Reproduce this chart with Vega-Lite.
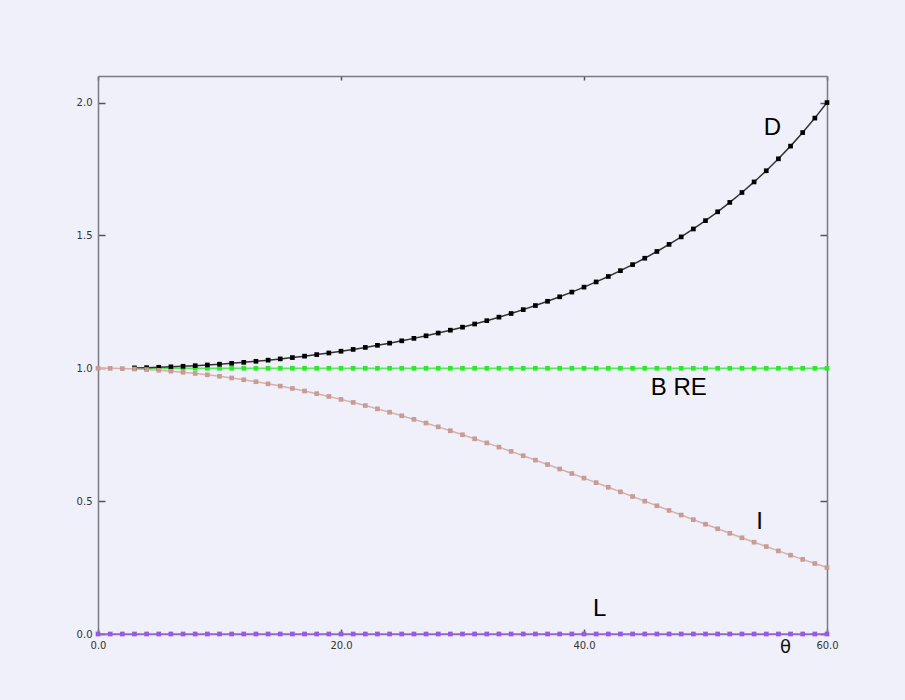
{
  "$schema": "https://vega.github.io/schema/vega-lite/v6.json",
  "width": 729,
  "height": 558,
  "autosize": "none",
  "padding": {"left": 98, "top": 76, "right": 78, "bottom": 66},
  "background": "#f0f0fa",
  "config": {
    "view": {"stroke": null},
    "axis": {"grid": false, "labelFlush": false, "domainColor": "#7a7a82", "domainWidth": 1.5, "tickColor": "#555", "tickWidth": 1.5, "labelFont": "DejaVu Sans", "labelFontSize": 10, "labelColor": "#333"}
  },
  "datasets": {
    "curves": [
      {"s": "L", "theta": 0, "v": 0}, {"s": "L", "theta": 1, "v": 0}, {"s": "L", "theta": 2, "v": 0}, {"s": "L", "theta": 3, "v": 0}, {"s": "L", "theta": 4, "v": 0}, {"s": "L", "theta": 5, "v": 0}, {"s": "L", "theta": 6, "v": 0}, {"s": "L", "theta": 7, "v": 0}, {"s": "L", "theta": 8, "v": 0}, {"s": "L", "theta": 9, "v": 0}, {"s": "L", "theta": 10, "v": 0}, {"s": "L", "theta": 11, "v": 0}, {"s": "L", "theta": 12, "v": 0}, {"s": "L", "theta": 13, "v": 0}, {"s": "L", "theta": 14, "v": 0}, {"s": "L", "theta": 15, "v": 0}, {"s": "L", "theta": 16, "v": 0}, {"s": "L", "theta": 17, "v": 0}, {"s": "L", "theta": 18, "v": 0}, {"s": "L", "theta": 19, "v": 0}, {"s": "L", "theta": 20, "v": 0}, {"s": "L", "theta": 21, "v": 0}, {"s": "L", "theta": 22, "v": 0}, {"s": "L", "theta": 23, "v": 0}, {"s": "L", "theta": 24, "v": 0}, {"s": "L", "theta": 25, "v": 0}, {"s": "L", "theta": 26, "v": 0}, {"s": "L", "theta": 27, "v": 0}, {"s": "L", "theta": 28, "v": 0}, {"s": "L", "theta": 29, "v": 0}, {"s": "L", "theta": 30, "v": 0}, {"s": "L", "theta": 31, "v": 0}, {"s": "L", "theta": 32, "v": 0}, {"s": "L", "theta": 33, "v": 0}, {"s": "L", "theta": 34, "v": 0}, {"s": "L", "theta": 35, "v": 0}, {"s": "L", "theta": 36, "v": 0}, {"s": "L", "theta": 37, "v": 0}, {"s": "L", "theta": 38, "v": 0}, {"s": "L", "theta": 39, "v": 0}, {"s": "L", "theta": 40, "v": 0}, {"s": "L", "theta": 41, "v": 0}, {"s": "L", "theta": 42, "v": 0}, {"s": "L", "theta": 43, "v": 0}, {"s": "L", "theta": 44, "v": 0}, {"s": "L", "theta": 45, "v": 0}, {"s": "L", "theta": 46, "v": 0}, {"s": "L", "theta": 47, "v": 0}, {"s": "L", "theta": 48, "v": 0}, {"s": "L", "theta": 49, "v": 0}, {"s": "L", "theta": 50, "v": 0}, {"s": "L", "theta": 51, "v": 0}, {"s": "L", "theta": 52, "v": 0}, {"s": "L", "theta": 53, "v": 0}, {"s": "L", "theta": 54, "v": 0}, {"s": "L", "theta": 55, "v": 0}, {"s": "L", "theta": 56, "v": 0}, {"s": "L", "theta": 57, "v": 0}, {"s": "L", "theta": 58, "v": 0}, {"s": "L", "theta": 59, "v": 0}, {"s": "L", "theta": 60, "v": 0},
      {"s": "B RE", "theta": 3, "v": 1}, {"s": "B RE", "theta": 4, "v": 1}, {"s": "B RE", "theta": 5, "v": 1}, {"s": "B RE", "theta": 6, "v": 1}, {"s": "B RE", "theta": 7, "v": 1}, {"s": "B RE", "theta": 8, "v": 1}, {"s": "B RE", "theta": 9, "v": 1}, {"s": "B RE", "theta": 10, "v": 1}, {"s": "B RE", "theta": 11, "v": 1}, {"s": "B RE", "theta": 12, "v": 1}, {"s": "B RE", "theta": 13, "v": 1}, {"s": "B RE", "theta": 14, "v": 1}, {"s": "B RE", "theta": 15, "v": 1}, {"s": "B RE", "theta": 16, "v": 1}, {"s": "B RE", "theta": 17, "v": 1}, {"s": "B RE", "theta": 18, "v": 1}, {"s": "B RE", "theta": 19, "v": 1}, {"s": "B RE", "theta": 20, "v": 1}, {"s": "B RE", "theta": 21, "v": 1}, {"s": "B RE", "theta": 22, "v": 1}, {"s": "B RE", "theta": 23, "v": 1}, {"s": "B RE", "theta": 24, "v": 1}, {"s": "B RE", "theta": 25, "v": 1}, {"s": "B RE", "theta": 26, "v": 1}, {"s": "B RE", "theta": 27, "v": 1}, {"s": "B RE", "theta": 28, "v": 1}, {"s": "B RE", "theta": 29, "v": 1}, {"s": "B RE", "theta": 30, "v": 1}, {"s": "B RE", "theta": 31, "v": 1}, {"s": "B RE", "theta": 32, "v": 1}, {"s": "B RE", "theta": 33, "v": 1}, {"s": "B RE", "theta": 34, "v": 1}, {"s": "B RE", "theta": 35, "v": 1}, {"s": "B RE", "theta": 36, "v": 1}, {"s": "B RE", "theta": 37, "v": 1}, {"s": "B RE", "theta": 38, "v": 1}, {"s": "B RE", "theta": 39, "v": 1}, {"s": "B RE", "theta": 40, "v": 1}, {"s": "B RE", "theta": 41, "v": 1}, {"s": "B RE", "theta": 42, "v": 1}, {"s": "B RE", "theta": 43, "v": 1}, {"s": "B RE", "theta": 44, "v": 1}, {"s": "B RE", "theta": 45, "v": 1}, {"s": "B RE", "theta": 46, "v": 1}, {"s": "B RE", "theta": 47, "v": 1}, {"s": "B RE", "theta": 48, "v": 1}, {"s": "B RE", "theta": 49, "v": 1}, {"s": "B RE", "theta": 50, "v": 1}, {"s": "B RE", "theta": 51, "v": 1}, {"s": "B RE", "theta": 52, "v": 1}, {"s": "B RE", "theta": 53, "v": 1}, {"s": "B RE", "theta": 54, "v": 1}, {"s": "B RE", "theta": 55, "v": 1}, {"s": "B RE", "theta": 56, "v": 1}, {"s": "B RE", "theta": 57, "v": 1}, {"s": "B RE", "theta": 58, "v": 1}, {"s": "B RE", "theta": 59, "v": 1}, {"s": "B RE", "theta": 60, "v": 1},
      {"s": "D", "theta": 3, "v": 1.0014}, {"s": "D", "theta": 4, "v": 1.0024}, {"s": "D", "theta": 5, "v": 1.0038}, {"s": "D", "theta": 6, "v": 1.0055}, {"s": "D", "theta": 7, "v": 1.0075}, {"s": "D", "theta": 8, "v": 1.0098}, {"s": "D", "theta": 9, "v": 1.0125}, {"s": "D", "theta": 10, "v": 1.0154}, {"s": "D", "theta": 11, "v": 1.0187}, {"s": "D", "theta": 12, "v": 1.0223}, {"s": "D", "theta": 13, "v": 1.0263}, {"s": "D", "theta": 14, "v": 1.0306}, {"s": "D", "theta": 15, "v": 1.0353}, {"s": "D", "theta": 16, "v": 1.0403}, {"s": "D", "theta": 17, "v": 1.0457}, {"s": "D", "theta": 18, "v": 1.0515}, {"s": "D", "theta": 19, "v": 1.0576}, {"s": "D", "theta": 20, "v": 1.0642}, {"s": "D", "theta": 21, "v": 1.0711}, {"s": "D", "theta": 22, "v": 1.0785}, {"s": "D", "theta": 23, "v": 1.0864}, {"s": "D", "theta": 24, "v": 1.0946}, {"s": "D", "theta": 25, "v": 1.1034}, {"s": "D", "theta": 26, "v": 1.1126}, {"s": "D", "theta": 27, "v": 1.1223}, {"s": "D", "theta": 28, "v": 1.1326}, {"s": "D", "theta": 29, "v": 1.1434}, {"s": "D", "theta": 30, "v": 1.1547}, {"s": "D", "theta": 31, "v": 1.1666}, {"s": "D", "theta": 32, "v": 1.1792}, {"s": "D", "theta": 33, "v": 1.1924}, {"s": "D", "theta": 34, "v": 1.2062}, {"s": "D", "theta": 35, "v": 1.2208}, {"s": "D", "theta": 36, "v": 1.2361}, {"s": "D", "theta": 37, "v": 1.2521}, {"s": "D", "theta": 38, "v": 1.2690}, {"s": "D", "theta": 39, "v": 1.2868}, {"s": "D", "theta": 40, "v": 1.3054}, {"s": "D", "theta": 41, "v": 1.3250}, {"s": "D", "theta": 42, "v": 1.3456}, {"s": "D", "theta": 43, "v": 1.3673}, {"s": "D", "theta": 44, "v": 1.3902}, {"s": "D", "theta": 45, "v": 1.4142}, {"s": "D", "theta": 46, "v": 1.4396}, {"s": "D", "theta": 47, "v": 1.4663}, {"s": "D", "theta": 48, "v": 1.4945}, {"s": "D", "theta": 49, "v": 1.5243}, {"s": "D", "theta": 50, "v": 1.5557}, {"s": "D", "theta": 51, "v": 1.5890}, {"s": "D", "theta": 52, "v": 1.6243}, {"s": "D", "theta": 53, "v": 1.6616}, {"s": "D", "theta": 54, "v": 1.7013}, {"s": "D", "theta": 55, "v": 1.7434}, {"s": "D", "theta": 56, "v": 1.7883}, {"s": "D", "theta": 57, "v": 1.8361}, {"s": "D", "theta": 58, "v": 1.8871}, {"s": "D", "theta": 59, "v": 1.9416}, {"s": "D", "theta": 60, "v": 2.0},
      {"s": "I", "theta": 0, "v": 1.0}, {"s": "I", "theta": 1, "v": 0.9997}, {"s": "I", "theta": 2, "v": 0.9988}, {"s": "I", "theta": 3, "v": 0.9973}, {"s": "I", "theta": 4, "v": 0.9951}, {"s": "I", "theta": 5, "v": 0.9924}, {"s": "I", "theta": 6, "v": 0.9891}, {"s": "I", "theta": 7, "v": 0.9851}, {"s": "I", "theta": 8, "v": 0.9806}, {"s": "I", "theta": 9, "v": 0.9755}, {"s": "I", "theta": 10, "v": 0.9698}, {"s": "I", "theta": 11, "v": 0.9636}, {"s": "I", "theta": 12, "v": 0.9568}, {"s": "I", "theta": 13, "v": 0.9494}, {"s": "I", "theta": 14, "v": 0.9415}, {"s": "I", "theta": 15, "v": 0.9330}, {"s": "I", "theta": 16, "v": 0.9240}, {"s": "I", "theta": 17, "v": 0.9145}, {"s": "I", "theta": 18, "v": 0.9045}, {"s": "I", "theta": 19, "v": 0.8940}, {"s": "I", "theta": 20, "v": 0.8830}, {"s": "I", "theta": 21, "v": 0.8716}, {"s": "I", "theta": 22, "v": 0.8597}, {"s": "I", "theta": 23, "v": 0.8473}, {"s": "I", "theta": 24, "v": 0.8346}, {"s": "I", "theta": 25, "v": 0.8214}, {"s": "I", "theta": 26, "v": 0.8078}, {"s": "I", "theta": 27, "v": 0.7939}, {"s": "I", "theta": 28, "v": 0.7796}, {"s": "I", "theta": 29, "v": 0.7650}, {"s": "I", "theta": 30, "v": 0.75}, {"s": "I", "theta": 31, "v": 0.7347}, {"s": "I", "theta": 32, "v": 0.7192}, {"s": "I", "theta": 33, "v": 0.7034}, {"s": "I", "theta": 34, "v": 0.6873}, {"s": "I", "theta": 35, "v": 0.6710}, {"s": "I", "theta": 36, "v": 0.6545}, {"s": "I", "theta": 37, "v": 0.6378}, {"s": "I", "theta": 38, "v": 0.6210}, {"s": "I", "theta": 39, "v": 0.6040}, {"s": "I", "theta": 40, "v": 0.5868}, {"s": "I", "theta": 41, "v": 0.5696}, {"s": "I", "theta": 42, "v": 0.5523}, {"s": "I", "theta": 43, "v": 0.5349}, {"s": "I", "theta": 44, "v": 0.5175}, {"s": "I", "theta": 45, "v": 0.5}, {"s": "I", "theta": 46, "v": 0.4826}, {"s": "I", "theta": 47, "v": 0.4651}, {"s": "I", "theta": 48, "v": 0.4477}, {"s": "I", "theta": 49, "v": 0.4304}, {"s": "I", "theta": 50, "v": 0.4132}, {"s": "I", "theta": 51, "v": 0.3960}, {"s": "I", "theta": 52, "v": 0.3790}, {"s": "I", "theta": 53, "v": 0.3622}, {"s": "I", "theta": 54, "v": 0.3455}, {"s": "I", "theta": 55, "v": 0.3290}, {"s": "I", "theta": 56, "v": 0.3127}, {"s": "I", "theta": 57, "v": 0.2966}, {"s": "I", "theta": 58, "v": 0.2808}, {"s": "I", "theta": 59, "v": 0.2653}, {"s": "I", "theta": 60, "v": 0.25}
    ],
    "labels": [
      {"label": "D", "theta": 55.5, "v": 1.905},
      {"label": "B RE", "theta": 47.8, "v": 0.927},
      {"label": "I", "theta": 54.45, "v": 0.4225},
      {"label": "L", "theta": 41.3, "v": 0.094}
    ]
  },
  "layer": [
    {
      "data": {"name": "curves"},
      "mark": {"type": "line", "clip": false},
      "encoding": {
        "x": {"field": "theta", "type": "quantitative", "scale": {"domain": [0, 60], "nice": false, "zero": false},
          "axis": {"orient": "bottom", "values": [0, 20, 40, 60], "format": ".1f", "tickSize": -5, "labelPadding": 11,
            "title": "θ", "titleFont": "DejaVu Sans", "titleFontSize": 18, "titleFontWeight": "normal", "titleColor": "#111",
            "titleX": 687, "titleY": 13, "titleAlign": "center", "titleBaseline": "middle"}},
        "y": {"field": "v", "type": "quantitative", "scale": {"domain": [0, 2.1], "nice": false, "zero": false},
          "axis": {"orient": "left", "values": [0, 0.5, 1, 1.5, 2], "format": ".1f", "tickSize": -7, "labelPadding": 13, "title": null}},
        "detail": {"field": "s"},
        "stroke": {"field": "s", "type": "nominal", "legend": null,
          "scale": {"domain": ["L", "B RE", "I", "D"], "range": ["#9c66ea", "#5ce85c", "#d8b0a8", "#333333"]}},
        "strokeWidth": {"field": "s", "type": "nominal", "legend": null,
          "scale": {"domain": ["L", "B RE", "I", "D"], "range": [1.5, 1.5, 2, 1]}}
      }
    },
    {
      "data": {"name": "curves"},
      "mark": {"type": "point", "shape": "square", "filled": true, "opacity": 1, "size": 22, "clip": false},
      "encoding": {
        "x": {"field": "theta", "type": "quantitative",
          "axis": {"orient": "top", "values": [0, 20, 40, 60], "labels": false, "tickSize": -4, "title": null}},
        "y": {"field": "v", "type": "quantitative",
          "axis": {"orient": "right", "values": [0, 0.5, 1, 1.5, 2], "labels": false, "tickSize": -7, "title": null}},
        "fill": {"field": "s", "type": "nominal", "legend": null,
          "scale": {"domain": ["L", "B RE", "I", "D"], "range": ["#9858e8", "#2ee82e", "#c89c94", "#000000"]}}
      }
    },
    {
      "data": {"name": "labels"},
      "mark": {"type": "text", "font": "Liberation Sans", "fontSize": 24, "color": "#000", "align": "center", "baseline": "middle"},
      "encoding": {
        "x": {"field": "theta", "type": "quantitative", "axis": null},
        "y": {"field": "v", "type": "quantitative", "axis": null},
        "text": {"field": "label"}
      }
    }
  ],
  "resolve": {"axis": {"x": "independent", "y": "independent"}}
}
